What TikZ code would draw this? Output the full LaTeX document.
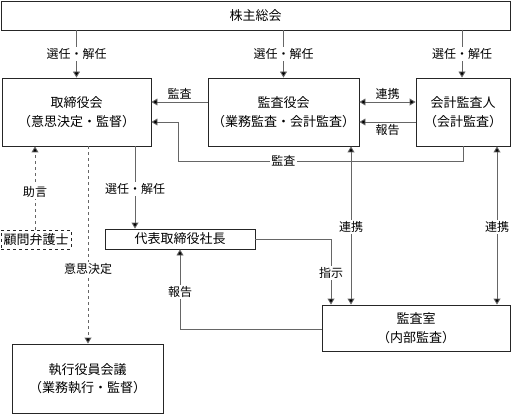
\documentclass[tikz,border=0pt]{standalone}
\usepackage{fontspec}
\setmainfont{Noto Sans CJK JP}
\usetikzlibrary{arrows.meta}
\tikzset{
  box/.style={draw=black!85,line width=0.9pt,align=center,inner sep=0pt,
    font=\fontsize{13}{18.5}\selectfont},
  conn/.style={draw=black!60,line width=0.9pt},
  arr/.style={conn,-{Triangle[width=7pt,length=6pt,fill=black]}},
  darr/.style={conn,{Triangle[width=7pt,length=6pt,fill=black]}-{Triangle[width=7pt,length=6pt,fill=black]}},
  lbl/.style={fill=white,inner sep=1.5pt,font=\fontsize{12}{14}\selectfont},
  lblf/.style={inner sep=1pt,font=\fontsize{12}{14}\selectfont},
}
\begin{document}
\begin{tikzpicture}[x=1pt,y=-1pt]
\useasboundingbox (0,0) rectangle (511,414);
% boxes
\node[box,minimum width=509pt,minimum height=29pt] (top) at (255.5,15.5) {株主総会};
\node[box,minimum width=149pt,minimum height=68pt] (board) at (76.5,112) {取締役会\\（意思決定・監督）};
\node[box,minimum width=151pt,minimum height=68pt] (kansa) at (283.5,112) {監査役会\\（業務監査・会計監査）};
\node[box,minimum width=94pt,minimum height=68pt] (kaikei) at (463,112) {会計監査人\\（会計監査）};
\node[box,dashed,minimum width=70pt,minimum height=19pt] (komon) at (36,239.5) {顧問弁護士};
\node[box,minimum width=150pt,minimum height=20pt] (ceo) at (180,239) {代表取締役社長};
\node[box,minimum width=188pt,minimum height=46pt] (naibu) at (416,328) {監査室\\（内部監査）};
\node[box,minimum width=151pt,minimum height=69pt] (shikko) at (87.5,378.5) {執行役員会議\\（業務執行・監督）};
% selection arrows
\draw[arr] (board.north |- top.south) -- node[lbl] (l1) {選任・解任} (board.north);
\draw[arr] (kansa.north |- top.south) -- node[lbl] (l2) {選任・解任} (kansa.north);
\draw[arr] (462,30) -- node[lbl] (l3) {選任・解任} (kaikei.north -| 462,0);
% audit from kansa to board
\draw[arr] (kansa.west |- 0,102) -- node[lblf,above=1pt] (l4) {監査} (board.east |- 0,102);
% renkei kansa <-> kaikei
\draw[darr] (kansa.east |- 0,102) -- node[lblf,above=1pt] (l5) {連携} (kaikei.west |- 0,102);
% report kaikei -> kansa
\draw[arr] (kaikei.west |- 0,122) -- node[lblf,below=1pt] (l6) {報告} (kansa.east |- 0,122);
% audit kaikei -> board
\coordinate (c1) at (463,161);
\coordinate (c2) at (178,161);
\coordinate (c3) at (178,122);
\draw[arr] (kaikei.south) -- (c1) -- node[lbl,pos=0.63] (l7) {監査} (c2) -- (c3) -- (board.east |- c3);
% renkei verticals
\draw[darr] (kansa.south -| 351,0) -- node[lbl,pos=0.51] (l8) {連携} (naibu.north -| 351,0);
\draw[darr] (kaikei.south -| 497,0) -- node[lbl,pos=0.51] (l9) {連携} (naibu.north -| 497,0);
% advice
\draw[arr,dashed] (komon.north -| 35,0) -- node[lbl,pos=0.45] (l10) {助言} (board.south -| 35,0);
% decision
\draw[arr,dashed] (board.south -| 88,0) -- node[lbl,pos=0.62] (l11) {意思決定} (shikko.north -| 88,0);
% board -> ceo
\draw[arr] (board.south -| 135,0) -- node[lbl,pos=0.52] (l12) {選任・解任} (ceo.north -| 135,0);
% instruction
\coordinate (c4) at (331,239);
\draw[arr] (ceo.east) -- (c4) -- node[lbl,pos=0.52] (l13) {指示} (naibu.north -| c4);
% report naibu -> ceo
\coordinate (c5) at (180,329);
\draw[arr] (naibu.west |- c5) -- (c5) -- node[lbl,pos=0.46] (l14) {報告} (ceo.south);
\end{tikzpicture}
\end{document}
